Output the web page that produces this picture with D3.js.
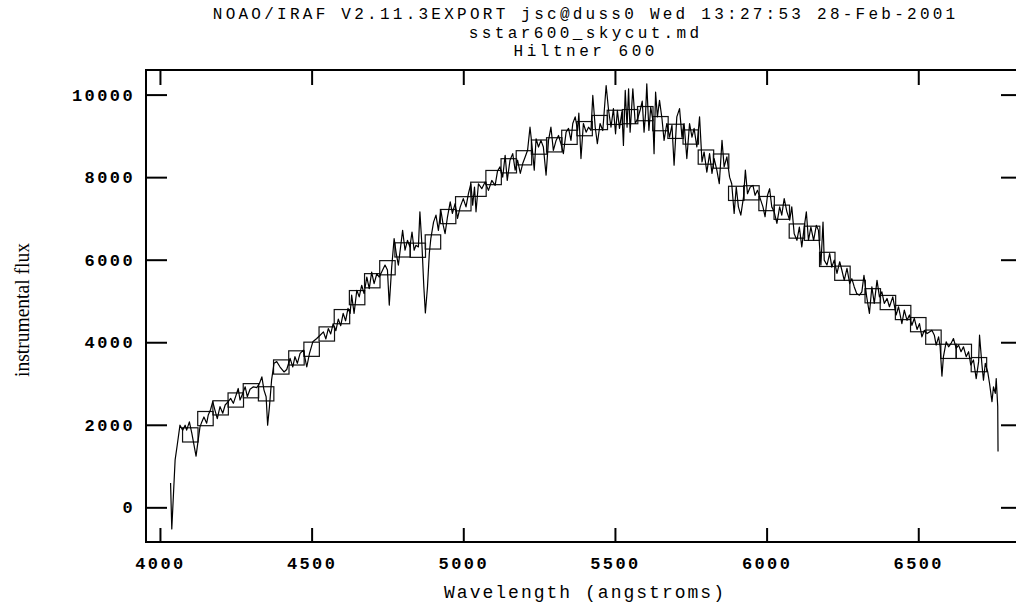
<html>
<head>
<script src="https://d3js.org/d3.v7.min.js"></script>
<style>
    body { margin: 0; background: #ffffff; }
    svg { display: block; background: #ffffff; }
    .frame { fill: none; stroke: #000; stroke-width: 2px; }
    .axis path.domain { display: none; }
    .axis line { stroke: #000; stroke-width: 2px; }
    .axis text { font-family: "Liberation Mono", monospace; font-weight: bold; font-size: 17px; letter-spacing: 2.4px; fill: #000; }
    .title { font-family: "Liberation Mono", monospace; font-size: 16px; fill: #000; }
    .xtitle { font-family: "Liberation Mono", monospace; font-size: 18px; fill: #000; }
    .spectrum { fill: none; stroke: #000; stroke-width: 1.2px; stroke-linejoin: round; }
    .band { fill: none; stroke: #111; stroke-width: 1.2px; }
</style>
</head>
<body>
<svg id="the-chart" width="1016" height="604"></svg>
<script>

    // title lines
    var titleLines = ['NOAO/IRAF V2.11.3EXPORT jsc@duss0 Wed 13:27:53 28-Feb-2001',
                      'sstar600_skycut.md',
                      'Hiltner 600'];

    var xTicks = [4000, 4500, 5000, 5500, 6000, 6500];
    var yTicks = [0, 2000, 4000, 6000, 8000, 10000];

    // spectrum, wavelength (angstroms) and instrumental flux
    var specWave = [4035, 4039, 4050, 4057, 4066, 4075, 4083, 4088, 4097, 4105, 4119, 4126, 4132, 4138, 4145, 4154, 4159, 4167, 4174, 4181,
        4189, 4198, 4207, 4215, 4225, 4233, 4242, 4251, 4258, 4264, 4273, 4281, 4288, 4297, 4308, 4319, 4328, 4336, 4343, 4350,
        4355, 4361, 4368, 4376, 4385, 4396, 4409, 4418, 4429, 4438, 4445, 4453, 4462, 4473, 4484, 4493, 4504, 4517, 4528, 4539,
        4547, 4555, 4563, 4571, 4580, 4588, 4596, 4604, 4612, 4620, 4627, 4632, 4640, 4649, 4657, 4665, 4673, 4682, 4690, 4698,
        4706, 4715, 4723, 4731, 4742, 4750, 4756, 4764, 4772, 4779, 4786, 4792, 4800, 4808, 4816, 4824, 4831, 4838, 4844, 4852,
        4857, 4864, 4870, 4875, 4882, 4888, 4893, 4902, 4910, 4918, 4926, 4934, 4940, 4948, 4957, 4964, 4973, 4981, 4990, 5000,
        5009, 5017, 5025, 5031, 5037, 5042, 5050, 5061, 5072, 5083, 5094, 5105, 5113, 5121, 5130, 5138, 5145, 5154, 5163, 5171,
        5179, 5188, 5196, 5204, 5212, 5220, 5226, 5234, 5240, 5248, 5256, 5264, 5273, 5281, 5289, 5297, 5306, 5314, 5322, 5330,
        5339, 5347, 5355, 5361, 5369, 5377, 5381, 5388, 5396, 5405, 5413, 5421, 5427, 5435, 5442, 5451, 5460, 5471, 5479, 5487,
        5495, 5502, 5508, 5515, 5523, 5528, 5534, 5540, 5545, 5550, 5559, 5567, 5575, 5583, 5590, 5596, 5601, 5605, 5612, 5618,
        5625, 5629, 5634, 5640, 5647, 5655, 5662, 5671, 5680, 5688, 5695, 5704, 5713, 5721, 5728, 5737, 5746, 5754, 5761, 5770,
        5779, 5787, 5794, 5803, 5812, 5820, 5827, 5836, 5844, 5853, 5860, 5869, 5878, 5885, 5893, 5900, 5907, 5915, 5924, 5930,
        5937, 5946, 5955, 5962, 5970, 5979, 5988, 5995, 6003, 6010, 6017, 6025, 6034, 6043, 6050, 6058, 6067, 6076, 6083, 6091,
        6100, 6108, 6116, 6124, 6131, 6138, 6146, 6155, 6164, 6171, 6179, 6186, 6190, 6199, 6208, 6215, 6223, 6232, 6241, 6248,
        6256, 6265, 6274, 6281, 6289, 6297, 6306, 6314, 6321, 6330, 6339, 6347, 6355, 6364, 6372, 6380, 6388, 6397, 6405, 6416,
        6427, 6435, 6446, 6454, 6463, 6471, 6479, 6487, 6496, 6504, 6512, 6520, 6529, 6537, 6545, 6553, 6559, 6567, 6572, 6578,
        6583, 6592, 6600, 6608, 6616, 6625, 6633, 6641, 6649, 6658, 6666, 6673, 6682, 6691, 6699, 6702, 6710, 6715, 6721, 6729,
        6735, 6743, 6748, 6754, 6757, 6762, 6763];

    var specFlux = [590, -525, 1150, 1510, 1990, 1870, 1990, 1870, 2070, 1800, 1240, 1630, 1950, 2070, 2190, 2040, 2230, 2370, 2560, 2360,
        2150, 2440, 2280, 2480, 2560, 2640, 2520, 2720, 2880, 2600, 2760, 2920, 2680, 2860, 2920, 2900, 3000, 3160, 2840, 2680,
        1990, 2440, 3080, 3490, 3530, 3400, 3280, 3340, 3610, 3400, 3650, 3490, 3730, 3810, 3400, 3730, 4010, 4090, 4170, 4250,
        4080, 4330, 4200, 4450, 4280, 4560, 4400, 4700, 4520, 4820, 4700, 5140, 4700, 5260, 5100, 5380, 5180, 5580, 5300, 5700,
        5420, 5660, 5580, 5700, 5870, 5750, 4900, 5820, 6510, 6150, 5870, 6230, 6710, 6230, 6470, 6310, 6670, 6230, 6350, 6310,
        7160, 6310, 5340, 4710, 5340, 6150, 6510, 6910, 7080, 6710, 7200, 6830, 6630, 7040, 7400, 7120, 7360, 7000, 7280, 7480,
        7280, 7600, 7840, 7320, 7760, 7160, 7840, 7720, 7880, 7680, 7920, 7800, 8150, 8250, 8000, 8530, 7920, 8410, 8570, 8170,
        8410, 8090, 8330, 8490, 8650, 9210, 8810, 8170, 8930, 8730, 8890, 8730, 8050, 8890, 9210, 8650, 8890, 9010, 8810, 8570,
        9090, 9180, 8890, 9300, 9460, 9130, 9550, 8450, 9300, 9090, 9210, 9130, 9980, 9210, 8810, 9300, 9130, 10220, 9620, 9210,
        9660, 9050, 9620, 9180, 9580, 8770, 10100, 9210, 10140, 9090, 10140, 9300, 9420, 9620, 9840, 9090, 9540, 10260, 9130, 9700,
        9380, 8570, 10060, 9460, 9860, 9420, 8890, 9300, 8970, 9260, 8290, 9460, 9660, 8970, 9300, 8450, 9300, 8970, 9180, 8730,
        9460, 8370, 8610, 8120, 8570, 8090, 8450, 8170, 7840, 8890, 8250, 8490, 8000, 7840, 7120, 7760, 7280, 7080, 7520, 8170,
        7600, 7760, 7800, 7560, 7680, 7480, 7280, 7040, 7560, 7720, 7280, 7160, 6880, 7280, 7080, 7480, 7160, 6960, 7280, 6630,
        6470, 6790, 6310, 6790, 7160, 6470, 6790, 6470, 6830, 6710, 5870, 6910, 5990, 5870, 6150, 5820, 5990, 5670, 5950, 5750,
        5500, 5790, 5420, 5540, 5340, 5180, 5140, 5220, 5620, 5100, 4700, 5340, 4940, 5500, 5100, 5220, 4940, 5060, 4860, 5100,
        4660, 4860, 4450, 4780, 4530, 4660, 4410, 4580, 4310, 4450, 4130, 4290, 4210, 4250, 4290, 4170, 3930, 4130, 3890, 3180,
        3650, 4010, 3890, 3970, 4090, 3850, 3930, 3770, 3890, 3650, 3770, 3450, 3570, 3120, 3530, 4170, 3450, 3080, 3490, 3280,
        3000, 2560, 2920, 2760, 3120, 2440, 1350];

    // calibration bandpasses: centre wavelength and mean flux
    var bandWave = [4100, 4150, 4200, 4250, 4300, 4350, 4400, 4450, 4500, 4550, 4600, 4650, 4700, 4750, 4800, 4850, 4900, 4950,
        5000, 5050, 5100, 5150, 5200, 5250, 5300, 5350, 5400, 5450, 5500, 5550, 5600, 5650, 5700, 5750, 5800, 5850, 5900, 5950,
        6000, 6050, 6100, 6150, 6200, 6250, 6300, 6350, 6400, 6450, 6500, 6550, 6600, 6650, 6700];
    var bandFlux = [1755, 2150, 2410, 2600, 2825, 2750, 3400, 3620, 3830, 4200, 4620, 5080, 5490, 5805, 6237, 6229, 6430, 7045,
        7355, 7706, 7990, 8275, 8469, 8728, 8783, 8965, 9175, 9323, 9449, 9466, 9539, 9296, 9110, 8972, 8486, 8389, 7607, 7620,
        7360, 7150, 6694, 6640, 6007, 5672, 5329, 5126, 4962, 4720, 4426, 4123, 3779, 3779, 3457];
    var bandWidth = 51, bandHalfHeight = 172;

    var svg = d3.select('#the-chart');
    var plotLeft = 146, plotRight = 1022, plotTop = 70, plotBottom = 542;

    var xscale = d3.scaleLinear().domain([3954, 6842]).range([plotLeft, plotRight]);
    var yscale = d3.scaleLinear().domain([-840, 10596]).range([plotBottom, plotTop]);

    // title
    svg.selectAll('.title')
        .data(titleLines)
        .enter().append('text')
        .attr('class', 'title')
        .attr('x', 584)
        .attr('y', function(d, i) { return 19 + i * 18.5; })
        .attr('text-anchor', 'middle')
        .attr('textLength', function(d) { return d.length * 12.8; })
        .attr('lengthAdjust', 'spacing')
        .text(function(d) { return d; });

    // axes
    svg.append('g').attr('class', 'axis')
        .attr('transform', 'translate(0,' + plotBottom + ')')
        .call(d3.axisBottom(xscale).tickValues(xTicks).tickSize(-14).tickPadding(15).tickFormat(d3.format('d')));
    svg.append('g').attr('class', 'axis')
        .attr('transform', 'translate(0,' + plotTop + ')')
        .call(d3.axisTop(xscale).tickValues(xTicks).tickSize(-15).tickFormat(''));
    svg.append('g').attr('class', 'axis')
        .attr('transform', 'translate(' + plotLeft + ',0)')
        .call(d3.axisLeft(yscale).tickValues(yTicks).tickSize(-21).tickPadding(11).tickFormat(d3.format('d')));
    svg.append('g').attr('class', 'axis')
        .attr('transform', 'translate(' + plotRight + ',0)')
        .call(d3.axisRight(yscale).tickValues(yTicks).tickSize(-21).tickFormat(''));

    svg.append('rect')
        .attr('class', 'frame')
        .attr('x', plotLeft).attr('y', plotTop)
        .attr('width', plotRight - plotLeft).attr('height', plotBottom - plotTop);

    // axis titles
    svg.append('text')
        .attr('class', 'xtitle')
        .attr('x', 584).attr('y', 598)
        .attr('text-anchor', 'middle')
        .attr('textLength', 280)
        .attr('lengthAdjust', 'spacing')
        .text('Wavelength (angstroms)');

    svg.append('text')
        .attr('transform', 'translate(29,310) rotate(-90)')
        .attr('text-anchor', 'middle')
        .style('font-family', '"Liberation Serif", serif')
        .style('font-size', '22px')
        .attr('textLength', 134)
        .attr('lengthAdjust', 'spacingAndGlyphs')
        .text('instrumental flux');

    // bandpass boxes
    var bands = bandWave.map(function(w, i) { return { w: w, f: bandFlux[i] }; });
    svg.append('g').selectAll('rect')
        .data(bands)
        .enter().append('rect')
        .attr('class', 'band')
        .attr('x', function(d) { return xscale(d.w - bandWidth / 2); })
        .attr('y', function(d) { return yscale(d.f + bandHalfHeight); })
        .attr('width', function(d) { return xscale(d.w + bandWidth / 2) - xscale(d.w - bandWidth / 2); })
        .attr('height', function(d) { return yscale(d.f - bandHalfHeight) - yscale(d.f + bandHalfHeight); });

    // spectrum
    var line = d3.line()
        .x(function(d) { return xscale(d[0]); })
        .y(function(d) { return yscale(d[1]); });

    svg.append('path')
        .datum(specWave.map(function(w, i) { return [w, specFlux[i]]; }))
        .attr('class', 'spectrum')
        .attr('d', line);

</script>
</body>
</html>
